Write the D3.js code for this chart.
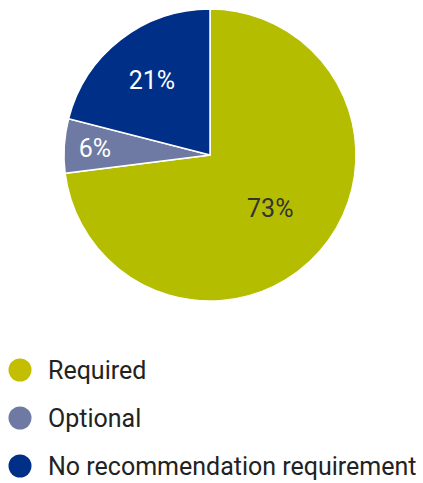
<!DOCTYPE html>
<html>
<head>
<meta charset="utf-8">
<script src="https://cdn.jsdelivr.net/npm/d3@7"></script>
<style>
  html, body { margin: 0; padding: 0; background: #fff; }
  #chart { width: 423px; height: 483px; }
</style>
</head>
<body>
<div id="chart"></div>
<script>
// Recommendation requirement share (pie + legend)
const categories = ["Required", "Optional", "No recommendation requirement"];
const values = [73, 6, 21];
const sliceColors = ["#b5bd00", "#6e7aa3", "#002f87"];
const legendColors = ["#c4be00", "#6e7aa3", "#002f87"];
const labelColors = ["#333333", "#ffffff", "#ffffff"];

document.addEventListener('DOMContentLoaded', () => {
    drawChart();
});

function drawChart() {
    const width = 423, height = 483;
    const cx = 210, cy = 155, radius = 146;

    const svg = d3.select("#chart")
        .append("svg")
        .attr("width", width)
        .attr("height", height)
        .style("font-family", "Roboto, sans-serif");

    const data = categories.map((c, i) => ({ name: c, value: values[i], i: i }));

    const pie = d3.pie()
        .value(d => d.value)
        .sort(null);

    const arc = d3.arc()
        .innerRadius(0)
        .outerRadius(radius);

    const g = svg.append("g")
        .attr("transform", `translate(${cx}, ${cy})`);

    const arcs = pie(data);

    g.selectAll("path")
        .data(arcs)
        .enter()
        .append("path")
        .attr("d", arc)
        .attr("fill", d => sliceColors[d.data.i])
        .attr("stroke", "#fff")
        .attr("stroke-width", 1.5);

    // labels sit further out on thin slices
    const labelR = v => radius * (v >= 50 ? 0.55 : v >= 15 ? 0.65 : 0.79);

    g.selectAll("text")
        .data(arcs)
        .enter()
        .append("text")
        .attr("transform", d => {
            const a = (d.startAngle + d.endAngle) / 2;
            const r = labelR(d.data.value);
            return `translate(${r * Math.sin(a)}, ${-r * Math.cos(a)})`;
        })
        .attr("dy", "0.35em")
        .attr("text-anchor", "middle")
        .attr("fill", d => labelColors[d.data.i])
        .style("font-size", "25px")
        .text(d => d.data.value + "%");

    // Legend
    const legend = svg.append("g")
        .attr("transform", "translate(20, 370)");

    const rows = legend.selectAll("g")
        .data(data)
        .enter()
        .append("g")
        .attr("transform", (d, i) => `translate(0, ${i * 48})`);

    rows.append("circle")
        .attr("r", 11.5)
        .attr("fill", d => legendColors[d.i]);

    rows.append("text")
        .attr("x", 28)
        .attr("y", 9)
        .attr("fill", "#222")
        .style("font-size", "25px")
        .text(d => d.name);
}
</script>
</body>
</html>
